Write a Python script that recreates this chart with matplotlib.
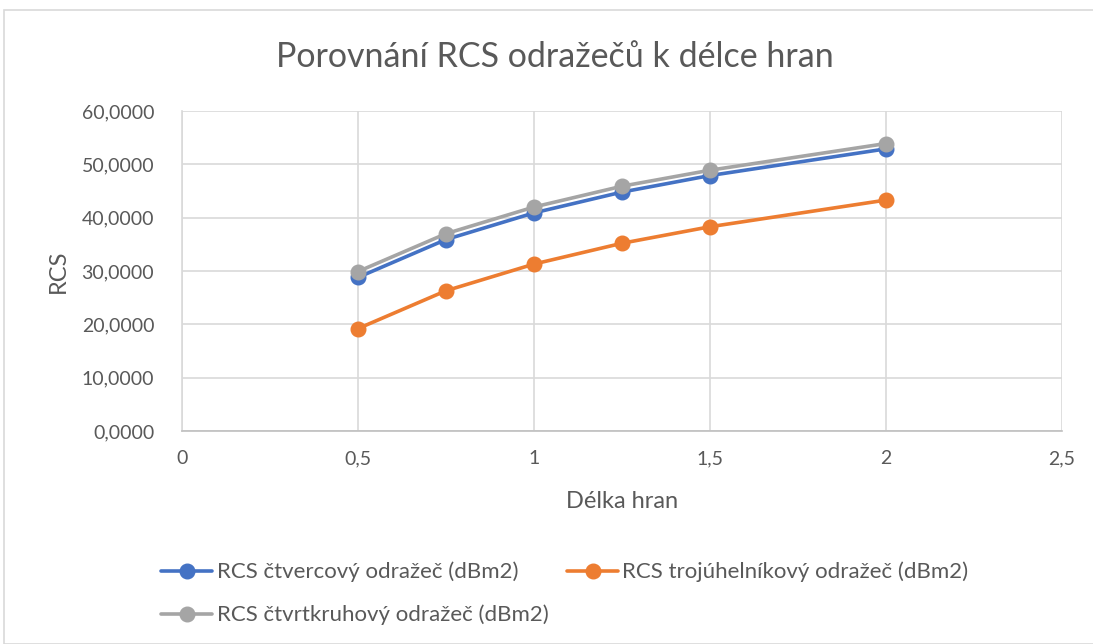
import matplotlib.pyplot as plt
import matplotlib.ticker as mticker
from matplotlib.patches import Rectangle

# data
delka = [0.5, 0.75, 1.0, 1.25, 1.5, 2.0]
rcs_ctverec = [28.8, 35.9, 40.9, 44.8, 47.9, 52.9]
rcs_trojuhelnik = [19.2, 26.3, 31.3, 35.2, 38.3, 43.3]
rcs_ctvrtkruh = [29.9, 37.0, 42.0, 45.9, 48.9, 53.9]

nazvy = ['RCS čtvercový odražeč (dBm2)',
         'RCS trojúhelníkový odražeč (dBm2)',
         'RCS čtvrtkruhový odražeč (dBm2)']
barvy = ['#4472C4', '#ED7D31', '#A5A5A5']

plt.rcParams['font.family'] = ['Lato', 'DejaVu Sans']
text_col = '#595959'
grid_col = '#D9D9D9'

fig = plt.figure(figsize=(10.93, 6.44), dpi=100)
fig.patches.append(Rectangle((4 / 1093, 0), 1.2, (634) / 644, transform=fig.transFigure,
                             fill=False, edgecolor='#D9D9D9', linewidth=1.2))

ax = fig.add_axes([182 / 1093, 213 / 644, 880 / 1093, 320 / 644])

lines = []
for y, nazev, barva in zip([rcs_ctverec, rcs_trojuhelnik, rcs_ctvrtkruh], nazvy, barvy):
    l, = ax.plot(delka, y, color=barva, linewidth=2.6, marker='o', markersize=10.5,
                 label=nazev, solid_capstyle='round', zorder=3)
    lines.append(l)

ax.set_xlim(0, 2.5)
ax.set_ylim(0, 60)
ax.set_xticks([0, 0.5, 1, 1.5, 2, 2.5])
ax.set_yticks(range(0, 61, 10))
ax.xaxis.set_major_formatter(mticker.FuncFormatter(lambda v, p: f'{v:g}'.replace('.', ',')))
ax.yaxis.set_major_formatter(mticker.FuncFormatter(lambda v, p: f'{v:.4f}'.replace('.', ',')))

ax.grid(True, color=grid_col, linewidth=1.2)
ax.set_axisbelow(True)
for s in ['top', 'right']:
    ax.spines[s].set_visible(False)
ax.spines['left'].set_color(grid_col)
ax.spines['bottom'].set_color('#BFBFBF')
ax.spines['left'].set_linewidth(1.2)
ax.spines['bottom'].set_linewidth(1.2)
ax.tick_params(length=0, labelsize=14, labelcolor=text_col, pad=14)
ax.tick_params(axis='y', pad=20)

ax.set_xlabel('Délka hran', fontsize=17, color=text_col, labelpad=17)
ax.set_ylabel('RCS', fontsize=17, color=text_col, labelpad=9)

fig.text(555 / 1093, 1 - 57 / 644, 'Porovnání RCS odražečů k délce hran', ha='center', va='center',
         fontsize=24.5, color=text_col)

fig.legend(handles=lines[:2], loc='center left', bbox_to_anchor=(141 / 1093, 1 - 572 / 644),
           ncol=2, frameon=False, fontsize=16, labelcolor=text_col, handlelength=2.3,
           handletextpad=0.2, columnspacing=2.2)
fig.legend(handles=lines[2:], loc='center left', bbox_to_anchor=(141 / 1093, 1 - 615 / 644),
           frameon=False, fontsize=16, labelcolor=text_col, handlelength=2.3, handletextpad=0.2)

fig.savefig('out.png', dpi=100)
